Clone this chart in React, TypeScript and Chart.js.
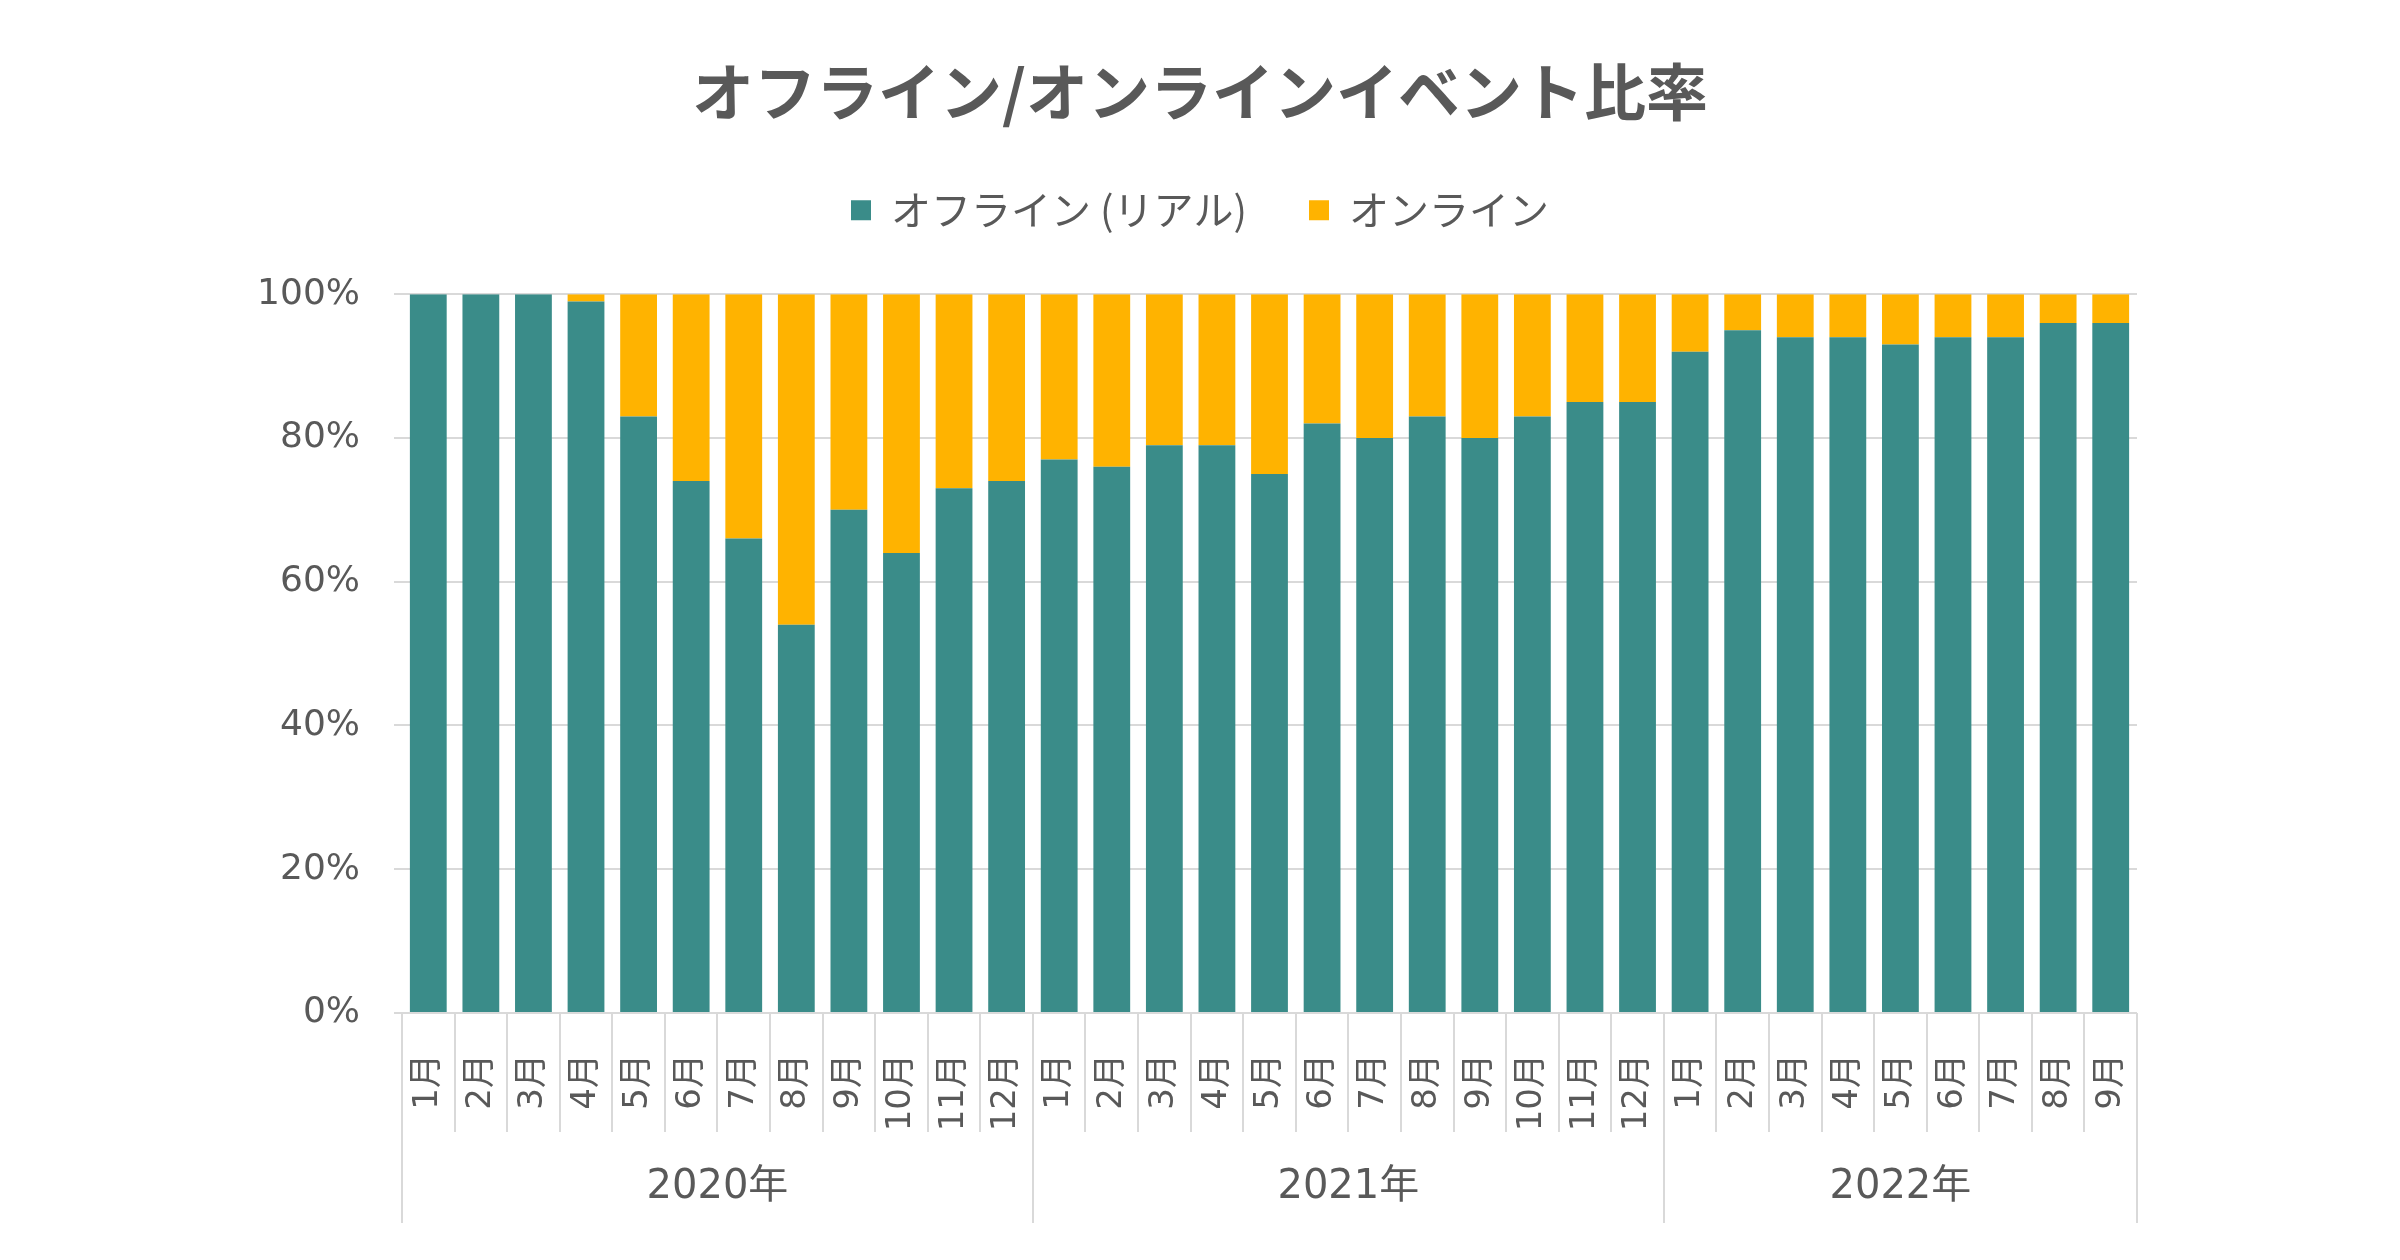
import { useEffect, useRef } from 'react';
import { Chart, registerables } from 'chart.js';

Chart.register(...registerables);

// months on the x axis (2020/1 .. 2022/9)
const months = [
  '1月', '2月', '3月', '4月', '5月', '6月', '7月', '8月', '9月', '10月', '11月', '12月',
  '1月', '2月', '3月', '4月', '5月', '6月', '7月', '8月', '9月', '10月', '11月', '12月',
  '1月', '2月', '3月', '4月', '5月', '6月', '7月', '8月', '9月',
];
const yearLabels = ['2020年', '2021年', '2022年'];
const yearSpans = [12, 12, 9];

const offline = [
  100, 100, 100, 99, 83, 74, 66, 54, 70, 64, 73, 74,
  77, 76, 79, 79, 75, 82, 80, 83, 80, 83, 85, 85,
  92, 95, 94, 94, 93, 94, 94, 96, 96,
];
const online = [
  0, 0, 0, 1, 17, 26, 34, 46, 30, 36, 27, 26,
  23, 24, 21, 21, 25, 18, 20, 17, 20, 17, 15, 15,
  8, 5, 6, 6, 7, 6, 6, 4, 4,
];

const TEXT = '#595959';
const GRID = '#D9D9D9';
const NUM_FONT = '"DejaVu Sans", "Noto Sans CJK JP", sans-serif';
const JP_FONT = '"Noto Sans CJK JP", sans-serif';

// second row of the category axis: month separators + year groups
const yearRows = {
  id: 'yearRows',
  afterDraw(chart: Chart) {
    const { ctx, chartArea } = chart;
    const x = chart.scales.x;
    const w = x.width / months.length;
    const top = chartArea.bottom;

    const yearEdges = [0];
    yearSpans.forEach((n) => yearEdges.push(yearEdges[yearEdges.length - 1] + n));

    ctx.save();
    ctx.strokeStyle = GRID;
    ctx.lineWidth = 2;
    for (let i = 0; i <= months.length; i++) {
      const px = Math.round(x.left + i * w);
      const long = yearEdges.includes(i);
      ctx.beginPath();
      ctx.moveTo(px, top);
      ctx.lineTo(px, top + (long ? 210 : 119));
      ctx.stroke();
    }

    ctx.fillStyle = TEXT;
    ctx.font = `40px ${NUM_FONT}`;
    ctx.textAlign = 'center';
    ctx.textBaseline = 'middle';
    yearLabels.forEach((label, k) => {
      const cx = x.left + (yearEdges[k] + yearSpans[k] / 2) * w;
      ctx.fillText(label, cx, top + 175);
    });
    ctx.restore();
  },
};

export default function App() {
  const canvasRef = useRef<HTMLCanvasElement>(null);

  useEffect(() => {
    if (!canvasRef.current) return;
    document.body.style.margin = '0';

    const chart = new Chart(canvasRef.current, {
      type: 'bar',
      data: {
        labels: months,
        datasets: [
          { label: 'オフライン (リアル)', data: offline, backgroundColor: '#3A8C89', barPercentage: 0.7, categoryPercentage: 1 },
          { label: 'オンライン', data: online, backgroundColor: '#FFB300', barPercentage: 0.7, categoryPercentage: 1 },
        ],
      },
      options: {
        animation: false,
        responsive: true,
        maintainAspectRatio: false,
        devicePixelRatio: 1,
        layout: { padding: 0 },
        plugins: {
          title: {
            display: true,
            text: 'オフライン/オンラインイベント比率',
            color: TEXT,
            font: { family: JP_FONT, size: 62, weight: 'bold', lineHeight: 1.1 },
            padding: { top: 58, bottom: 2 },
          },
          legend: {
            display: true,
            weight: 1000,
            labels: {
              color: TEXT,
              font: { family: JP_FONT, size: 40 },
              boxWidth: 20,
              boxHeight: 20,
              padding: 62,
            },
          },
          // empty subtitle used as a spacer between legend and plot
          subtitle: {
            display: true,
            text: '',
            weight: 500,
            font: { size: 10, lineHeight: 1 },
            padding: { top: 0, bottom: 44 },
          },
          tooltip: { enabled: false },
        },
        scales: {
          x: {
            stacked: true,
            grid: { display: false },
            border: { display: false },
            ticks: {
              color: TEXT,
              font: { family: NUM_FONT, size: 34 },
              autoSkip: false,
              maxRotation: 90,
              minRotation: 90,
              padding: 33,
            },
            afterFit: (scale: any) => { scale.height = 247; },
          },
          y: {
            stacked: true,
            min: 0,
            max: 100,
            grid: { color: GRID, lineWidth: 2, tickLength: 8 },
            border: { display: false },
            ticks: {
              stepSize: 20,
              color: TEXT,
              font: { family: NUM_FONT, size: 36 },
              padding: 34,
              callback: (v: any) => v + '%',
            },
            afterFit: (scale: any) => { scale.width = 402; },
          },
          // empty right axis, only reserves the right margin so title/legend stay centred on the canvas
          yRight: {
            position: 'right',
            min: 0,
            max: 100,
            grid: { display: false },
            border: { display: false },
            ticks: { display: false },
            afterFit: (scale: any) => { scale.width = 263; },
          },
        },
      },
      plugins: [yearRows],
    });

    return () => {
      chart.destroy();
    };
  }, []);

  return (
    <div style={{ width: 2400, height: 1260, position: 'relative' }}>
      <canvas ref={canvasRef} />
    </div>
  );
}
